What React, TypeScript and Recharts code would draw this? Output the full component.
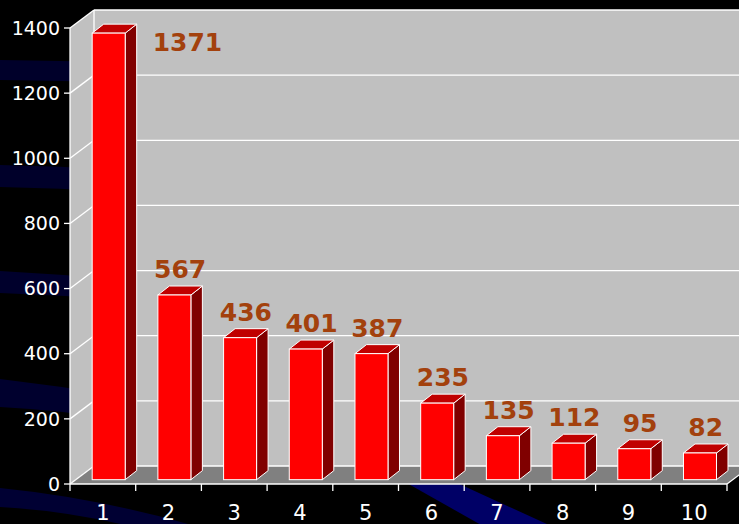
import React from 'react';
import { BarChart, Bar, XAxis, YAxis, CartesianGrid } from 'recharts';

const CATEGORIES = ['1', '2', '3', '4', '5', '6', '7', '8', '9', '10'];
const VALUES = [1371, 567, 436, 401, 387, 235, 135, 112, 95, 82];
const Y_TICKS = [0, 200, 400, 600, 800, 1000, 1200, 1400];

const data = CATEGORIES.map((c, i) => ({ cat: c, value: VALUES[i] }));

const W = 739;
const H = 524;
const MARGIN = { top: 28, right: 12, bottom: 0, left: 0 };
const DX = 24; // wall depth (x)
const DY = 18; // wall depth (y)
const BAR_POS = 0.24; // bar placement along depth
const BAR_DX = 11.5;
const BAR_DY = 9;
const FONT = '"DejaVu Sans", Verdana, sans-serif';
const LABEL_COLOR = '#a3410d';

const GridLine = (p: any) => {
  const { x1, x2, y1, index } = p;
  const top = typeof p.y === 'number' ? p.y : MARGIN.top;
  const h = typeof p.height === 'number' ? p.height : 456;
  const bottom = top + h;
  return (
    <g key={p.key}>
      {index === 0 && (
        <g>
          <polygon
            points={`${x1},${top} ${x1 + DX},${top - DY} ${x1 + DX},${bottom - DY} ${x1},${bottom}`}
            fill="#c0c0c0"
          />
          <polygon
            points={`${x1 + DX},${top - DY} ${x2 + DX},${top - DY} ${x2 + DX},${bottom - DY} ${x1 + DX},${bottom - DY}`}
            fill="#c0c0c0"
          />
          <polygon
            points={`${x1},${bottom} ${x2},${bottom} ${x2 + DX},${bottom - DY} ${x1 + DX},${bottom - DY}`}
            fill="#808080"
          />
          <line x1={x1 + DX} y1={top - DY} x2={x1 + DX} y2={bottom - DY} stroke="#fff" strokeWidth={1.3} />
          <line x1={x2} y1={bottom} x2={x2 + DX} y2={bottom - DY} stroke="#fff" strokeWidth={1.3} />
        </g>
      )}
      <line x1={x1 + DX} y1={y1 - DY} x2={x2 + DX} y2={y1 - DY} stroke="#fff" strokeWidth={1.3} />
      <line x1={x1} y1={y1} x2={x1 + DX} y2={y1 - DY} stroke="#fff" strokeWidth={1.3} />
    </g>
  );
};

const Bar3D = (props: any) => {
  const { x, y, width, height, payload } = props;
  if (width == null || height == null) return null;
  const sx = DX * BAR_POS;
  const sy = DY * BAR_POS;
  const fx = x + sx;
  const fy = y - sy;
  const value = payload?.value;
  const txt = String(value);
  let lx = fx + (width + BAR_DX) / 2;
  let ly = fy - 17;
  let anchor: 'middle' | 'start' = 'middle';
  if (ly - 18 < MARGIN.top) {
    lx = fx + width + BAR_DX + 16;
    ly = fy + 18;
    anchor = 'start';
  }
  return (
    <g>
      <polygon
        points={`${fx + width},${fy} ${fx + width + BAR_DX},${fy - BAR_DY} ${fx + width + BAR_DX},${fy + height - BAR_DY} ${fx + width},${fy + height}`}
        fill="#800000"
        stroke="#fff"
        strokeWidth={1}
        strokeLinejoin="round"
      />
      <polygon
        points={`${fx},${fy} ${fx + BAR_DX},${fy - BAR_DY} ${fx + width + BAR_DX},${fy - BAR_DY} ${fx + width},${fy}`}
        fill="#c00000"
        stroke="#fff"
        strokeWidth={1}
        strokeLinejoin="round"
      />
      <rect x={fx} y={fy} width={width} height={height} fill="#ff0000" stroke="#fff" strokeWidth={1} />
      <text
        x={lx}
        y={ly}
        textAnchor={anchor}
        fill={LABEL_COLOR}
        fontSize={25}
        fontWeight="bold"
        fontFamily={FONT}
      >
        {txt}
      </text>
    </g>
  );
};

const XTick = (props: any) => {
  const { x, y, payload, index } = props;
  const half = payload && typeof payload.offset === 'number' && payload.offset > 0 ? payload.offset : 32.85;
  return (
    <g>
      <line x1={x - half} y1={y} x2={x - half} y2={y + 7} stroke="#fff" strokeWidth={1.3} />
      {index === CATEGORIES.length - 1 && (
        <line x1={x + half} y1={y} x2={x + half} y2={y + 7} stroke="#fff" strokeWidth={1.3} />
      )}
      <text x={x} y={y + 36} textAnchor="middle" fill="#fff" fontSize={21} fontFamily={FONT}>
        {payload.value}
      </text>
    </g>
  );
};

const Background = () => (
  <svg width={W} height={H} style={{ position: 'absolute', left: 0, top: 0 }}>
    <rect x={0} y={0} width={W} height={H} fill="#000" />
    <path d="M0,60 L120,62 L120,82 L0,80 Z" fill="#00002a" />
    <path d="M0,165 Q60,166 120,170 L120,192 Q60,188 0,187 Z" fill="#00002a" />
    <path d="M0,271 Q60,274 120,280 L120,300 Q60,295 0,293 Z" fill="#00002c" />
    <path d="M0,379 Q60,386 120,396 L120,420 Q60,410 0,407 Z" fill="#00002e" />
    <path d="M0,488 Q120,500 240,540 L180,540 Q90,512 0,507 Z" fill="#000033" />
    <path d="M405,482 L455,482 L560,530 L490,530 Z" fill="#000066" />
  </svg>
);

export default function App() {
  return (
    <div style={{ position: 'absolute', left: 0, top: 0, width: W, height: H, overflow: 'hidden', background: '#000' }}>
      <Background />
      <div style={{ position: 'absolute', left: 0, top: 0 }}>
        <BarChart width={W} height={H} data={data} margin={MARGIN} barCategoryGap="25%">
          <CartesianGrid horizontal={GridLine as any} vertical={false} />
          <XAxis
            dataKey="cat"
            height={40}
            axisLine={{ stroke: '#fff', strokeWidth: 1.3 }}
            tickLine={false}
            tickSize={0}
            tickMargin={0}
            interval={0}
            tick={<XTick />}
          />
          <YAxis
            width={70}
            domain={[0, 1400]}
            ticks={Y_TICKS}
            interval={0}
            axisLine={{ stroke: '#fff', strokeWidth: 1.3 }}
            tickLine={{ stroke: '#fff', strokeWidth: 1.3 }}
            tickSize={6}
            tickMargin={4}
            tick={{ fill: '#fff', fontSize: 19, fontFamily: FONT }}
          />
          <Bar dataKey="value" isAnimationActive={false} shape={Bar3D} />
        </BarChart>
      </div>
    </div>
  );
}
